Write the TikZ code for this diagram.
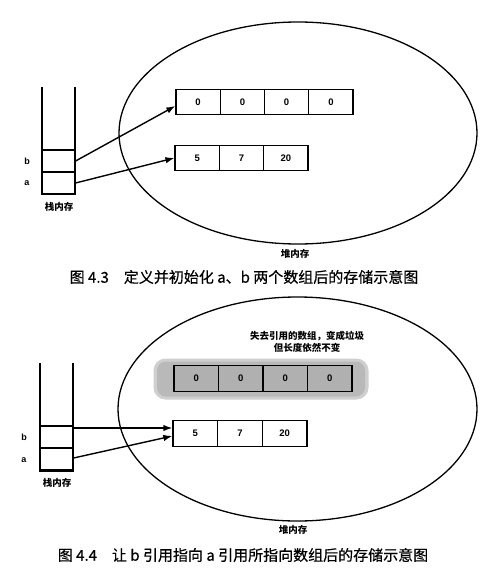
\documentclass[tikz,border=0pt]{standalone}
\usepackage{fontspec}
\setmainfont{Liberation Sans}
\newfontfamily\cjk{Noto Sans CJK SC}
\newfontfamily\cjkcap[FakeBold=0.5]{Noto Sans CJK SC}
\usetikzlibrary{arrows.meta,shapes.geometric}
\begin{document}
\begin{tikzpicture}[x=1pt,y=-1pt,
  cell/.style={draw, line width=1.25pt, minimum width=44.3pt, minimum height=25.5pt, inner sep=0pt, font=\bfseries\fontsize{9.5}{10}\selectfont},
  gcell/.style={cell, fill=gray!62},
  scell/.style={draw, line width=1.2pt, minimum width=33pt, minimum height=22pt, inner sep=0pt},
  stackwall/.style={line width=1.2pt},
  heap/.style={ellipse, draw, line width=1.3pt, inner sep=0pt},
  ptr/.style={-{Latex[length=9pt,width=6.5pt]}, line width=1.4pt},
  var/.style={font=\bfseries\fontsize{9}{10}\selectfont},
  lbl/.style={font=\cjk\bfseries\fontsize{9.5}{12}\selectfont},
  figcaption/.style={font=\cjkcap\fontsize{15}{17}\selectfont}
]
\useasboundingbox (0,0) rectangle (503,572);
\fill[white] (0,0) rectangle (503,572);

% ---------------- Figure 4.3 ----------------
\node[heap, minimum width=358pt, minimum height=222pt] (heapA) at (298,133) {};
\node[lbl] (heapAlbl) at (295,254) {堆内存};

\draw[stackwall] (42,87) -- (42,194) -- (75,194) -- (75,87);
\node[scell] (sbA) at (58.5,161) {};
\node[scell] (saA) at (58.5,183) {};
\node[var] (bA) at (27,161) {b};
\node[var] (aA) at (27,183) {a};
\node[lbl] (stackAlbl) at (59,207) {栈内存};

\node[cell] (pA1) at (198.1,102) {0};
\node[cell] (pA2) at (242.4,102) {0};
\node[cell] (pA3) at (286.6,102) {0};
\node[cell] (pA4) at (330.9,102) {0};

\node[cell] (qA1) at (197.2,158) {5};
\node[cell] (qA2) at (241.5,158) {7};
\node[cell] (qA3) at (285.8,158) {20};

\draw[ptr] (sbA.east) -- ([yshift=-4pt]pA1.west);
\draw[ptr] (saA.east) -- (qA1.west);

\node[figcaption] (capA) at (244,277) {图 4.3\hspace{1em}定义并初始化 a、b 两个数组后的存储示意图};

% ---------------- Figure 4.4 ----------------
\node[heap, minimum width=359pt, minimum height=224pt] (heapB) at (297.5,409) {};
\node[lbl] (heapBlbl) at (293,530) {堆内存};

\node[fill=gray!38, rounded corners=12pt, minimum width=215pt, minimum height=41pt, inner sep=0pt] (halo) at (261,379) {};
\node[fill=gray!55, rounded corners=9pt, minimum width=208pt, minimum height=35pt, inner sep=0pt] (garbage) at (261,379) {};

\node[gcell, minimum width=44.5pt] (pB1) at (196.25,378.5) {0};
\node[gcell, minimum width=44.5pt] (pB2) at (240.75,378.5) {0};
\node[gcell, minimum width=44.5pt] (pB3) at (285.25,378.5) {0};
\node[gcell, minimum width=44.5pt] (pB4) at (329.75,378.5) {0};

\node[lbl, align=center] (note) at (307,342) {失去引用的数组，变成垃圾\\但长度依然不变};

\draw[stackwall] (40,363) -- (40,471) -- (73,471) -- (73,363);
\node[scell] (sbB) at (56.5,437) {};
\node[scell] (saB) at (56.5,459) {};
\node[var] (bB) at (24,437) {b};
\node[var] (aB) at (24,460) {a};
\node[lbl] (stackBlbl) at (57,483) {栈内存};

\node[cell, minimum width=44.7pt] (qB1) at (195.3,433.5) {5};
\node[cell, minimum width=44.7pt] (qB2) at (240,433.5) {7};
\node[cell, minimum width=44.7pt] (qB3) at (284.7,433.5) {20};

\draw[ptr] ([yshift=9pt]sbB.east) -- ([yshift=5.5pt]qB1.west);
\draw[ptr] ([yshift=1pt]saB.east) -- ([yshift=-2.5pt]qB1.west);

\node[figcaption] (capB) at (243,555) {图 4.4\hspace{1em}让 b 引用指向 a 引用所指向数组后的存储示意图};
\end{tikzpicture}
\end{document}
